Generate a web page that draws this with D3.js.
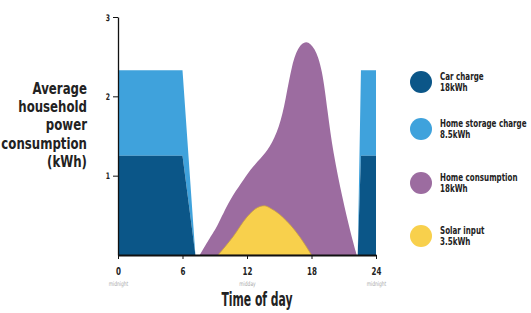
<!DOCTYPE html>
<html><head><meta charset="utf-8">
<script src="https://cdn.jsdelivr.net/npm/d3@7"></script>
<style>
body{margin:0;background:#fff;}
text{font-family:"DejaVu Sans",sans-serif;font-weight:bold;}
</style></head>
<body>
<svg id="c" width="531" height="313"></svg>
<script>
// Data
const carHours    = [0, 6, 7.2, 22.3, 22.6, 24];
const carValues   = [1.25, 1.25, 0, 0, 1.25, 1.25];
const storageHours  = [0, 6, 7.2, 22.3, 22.6, 24];
const storageValues = [1.08, 1.08, 0, 0, 1.08, 1.08];
const homeHours  = [7.6, 8.6, 9.2, 10.4, 11.5, 12.3, 13.3, 14.1, 15.0, 15.6, 16.2, 16.8, 17.5, 18.3, 19.0, 19.5, 20.0, 20.9, 21.6, 22.2];
const homeValues = [0, 0.23, 0.35, 0.7, 0.91, 1.08, 1.22, 1.35, 1.6, 1.96, 2.42, 2.63, 2.71, 2.62, 2.35, 1.8, 1.3, 0.7, 0.3, 0];
const solarHours  = [9.3, 10.7, 12.0, 13.0, 13.6, 14.3, 15.3, 16.9, 18.0];
const solarValues = [0, 0.23, 0.48, 0.6, 0.62, 0.58, 0.48, 0.23, 0];
const xTicks = [0, 6, 12, 18, 24];
const xSubLabels = {0: "midnight", 12: "midday", 24: "midnight"};
const yTicks = [1, 2, 3];
const yTitle = ["Average", "household", "power", "consumption", "(kWh)"];
const legendItems = [
  {name: "Car charge", sub: "18kWh", color: "#0b5688"},
  {name: "Home storage charge", sub: "8.5kWh", color: "#3fa2dc"},
  {name: "Home consumption", sub: "18kWh", color: "#9c6ca0"},
  {name: "Solar input", sub: "3.5kWh", color: "#f8d04c"}
];

const svg = d3.select("#c");
const x = d3.scaleLinear().domain([0, 24]).range([118, 376]);
const y = d3.scaleLinear().domain([0, 3]).range([255, 17]);

function ctext(parent, tx, ty, str, size, anchor, fill, weight, sx) {
  const g = parent.append("g").attr("transform", `translate(${tx},${ty}) scale(${sx || 0.68},1)`);
  return g.append("text").attr("text-anchor", anchor || "start").attr("font-size", size)
    .attr("fill", fill || "#222").style("font-weight", weight || "bold").text(str);
}

// Stacked car + storage
const carData = carHours.map((h, i) => ({h, v: carValues[i]}));
const storData = storageHours.map((h, i) => ({h, v0: carValues[i], v1: carValues[i] + storageValues[i]}));

svg.append("path").datum(storData)
  .attr("fill", legendItems[1].color)
  .attr("d", d3.area().x(d => x(d.h)).y0(d => y(d.v0)).y1(d => y(d.v1)));
svg.append("path").datum(carData)
  .attr("fill", legendItems[0].color)
  .attr("d", d3.area().x(d => x(d.h)).y0(y(0)).y1(d => y(d.v)));

const homeData = homeHours.map((h, i) => ({h, v: homeValues[i]}));
svg.append("path").datum(homeData)
  .attr("fill", legendItems[2].color)
  .attr("d", d3.area().curve(d3.curveBasis).x(d => x(d.h)).y0(y(0)).y1(d => y(d.v)));

const solarData = solarHours.map((h, i) => ({h, v: solarValues[i]}));
svg.append("path").datum(solarData)
  .attr("fill", legendItems[3].color)
  .attr("stroke", "#c9a040").attr("stroke-width", 0.8)
  .attr("d", d3.area().curve(d3.curveMonotoneX).x(d => x(d.h)).y0(y(0)).y1(d => y(d.v)));

// Axes
const yAxis = svg.append("g").attr("transform", `translate(${x(0)},0)`)
  .call(d3.axisLeft(y).tickValues(yTicks).tickSize(5).tickSizeOuter(0).tickFormat(""));
yAxis.select(".domain").attr("stroke", "#111").attr("stroke-width", 1.3);
yAxis.selectAll(".tick line").attr("stroke", "#111");
yAxis.selectAll(".tick").each(function(d) {
  ctext(d3.select(this), -8, 3, d3.format("d")(d), 9, "end");
});

const xAxis = svg.append("g").attr("transform", `translate(0,${y(0)})`)
  .call(d3.axisBottom(x).tickValues(xTicks).tickSize(4).tickSizeOuter(0).tickFormat(""));
xAxis.select(".domain").attr("stroke", "#111").attr("stroke-width", 2);
xAxis.selectAll(".tick line").attr("stroke", "#111");
xAxis.selectAll(".tick").each(function(d) {
  const t = d3.select(this);
  ctext(t, 0, 20, d3.format("d")(d), 10.5, "middle");
  if (xSubLabels[d]) ctext(t, 0, 30.5, xSubLabels[d], 6.5, "middle", "#aaa", "normal");
});

ctext(svg, 257, 306, "Time of day", 19, "middle", "#222", "bold", 0.57);

yTitle.forEach((s, i) => ctext(svg, 87, 94 + i * 18.2, s, 15.5, "end", "#222", "bold", 0.76));

// Legend
const lg = svg.append("g").selectAll("g").data(legendItems).join("g")
  .attr("transform", (d, i) => `translate(421,${[82, 129, 183, 236][i]})`);
lg.append("circle").attr("r", 11).attr("fill", d => d.color);
lg.each(function(d) {
  const g = d3.select(this);
  ctext(g, 19, -2, d.name, 10.5, "start");
  ctext(g, 19, 9, d.sub, 10.5, "start");
});
</script>
</body></html>
